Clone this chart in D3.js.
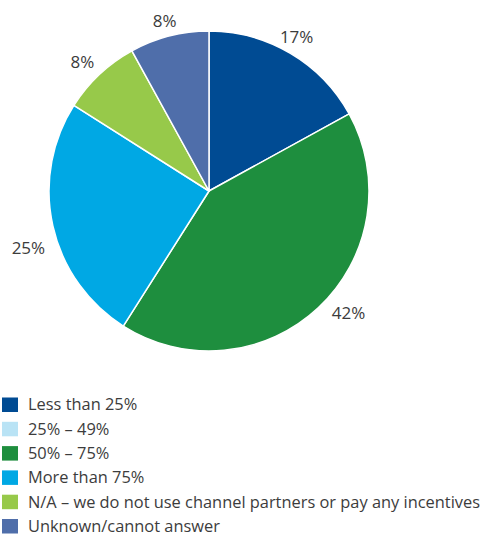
<!DOCTYPE html>
<html>
<head>
<meta charset="utf-8">
<script src="https://cdn.jsdelivr.net/npm/d3@7"></script>
<style>
  html, body { margin: 0; padding: 0; background: #fff; }
  svg { display: block; font-family: "Open Sans", "Noto Sans", sans-serif; }
</style>
</head>
<body>
<svg id="chart" width="482" height="537"></svg>
<script>
// Share of responses per category
const categories = [
  "Less than 25%",
  "25% – 49%",
  "50% – 75%",
  "More than 75%",
  "N/A – we do not use channel partners or pay any incentives",
  "Unknown/cannot answer"
];
const values = [17, 0, 42, 25, 8, 8];
const colors = ["#004b93", "#b9e3f5", "#1e8e3e", "#00a8e4", "#97c94a", "#4f6eaa"];

const svg = d3.select("#chart");
const cx = 209, cy = 191, radius = 160, labelRadius = 182;

const data = categories.map((c, i) => ({ category: c, value: values[i], color: colors[i] }));

const pie = d3.pie().sort(null).value(d => d.value);
const arc = d3.arc().innerRadius(0).outerRadius(radius);
const labelArc = d3.arc().innerRadius(labelRadius).outerRadius(labelRadius);

const g = svg.append("g").attr("transform", `translate(${cx},${cy})`);
const arcs = pie(data);
const shown = arcs.filter(d => d.data.value > 0);

g.selectAll("path")
  .data(shown)
  .join("path")
  .attr("d", arc)
  .attr("fill", d => d.data.color)
  .attr("stroke", "#fff")
  .attr("stroke-width", 1.5)
  .attr("stroke-linejoin", "round");

// Hand-tuned label nudges (px) so the percentages sit clear of the rim
const labelNudge = {
  "Less than 25%": [-5, 2],
  "50% – 75%": [15, -11],
  "More than 75%": [-3, 17],
  "N/A – we do not use channel partners or pay any incentives": [-2, 3],
  "Unknown/cannot answer": [1, 6]
};

g.selectAll("text.pct")
  .data(shown)
  .join("text")
  .attr("class", "pct")
  .attr("transform", d => {
    const [x, y] = labelArc.centroid(d);
    const [nx, ny] = labelNudge[d.data.category] || [0, 0];
    return `translate(${x + nx},${y + ny})`;
  })
  .attr("text-anchor", "middle")
  .attr("dominant-baseline", "central")
  .attr("font-size", 17)
  .attr("fill", "#3c3c3c")
  .text(d => d.data.value + "%");

// Legend
const legend = svg.append("g").attr("transform", "translate(2,397.5)");
const rows = legend.selectAll("g")
  .data(data)
  .join("g")
  .attr("transform", (d, i) => `translate(0,${i * 24.3})`);

rows.append("rect")
  .attr("width", 16)
  .attr("height", 14.5)
  .attr("fill", d => d.color);

rows.append("text")
  .attr("x", 26)
  .attr("y", 12.8)
  .attr("font-size", 16.4)
  .attr("fill", "#3c3c3c")
  .text(d => d.category);
</script>
</body>
</html>
